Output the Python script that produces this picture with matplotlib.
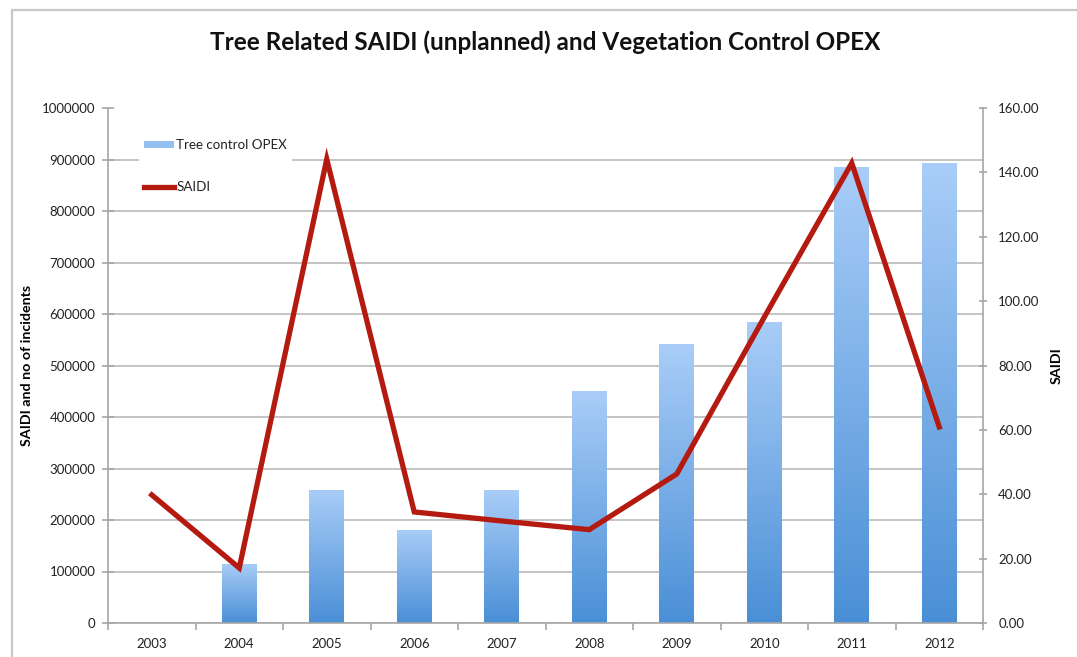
import numpy as np
import matplotlib
matplotlib.use("Agg")
import matplotlib.pyplot as plt
from matplotlib.patches import Patch, Rectangle
from matplotlib.lines import Line2D
from matplotlib.colors import LinearSegmentedColormap
from matplotlib.ticker import FixedLocator, FormatStrFormatter

# values
years = ["2003", "2004", "2005", "2006", "2007", "2008", "2009", "2010", "2011", "2012"]
opex = [0, 115000, 259000, 181000, 258000, 450000, 541000, 584000, 885000, 893000]
saidi = [39.8, 17.1, 144.1, 34.5, 31.7, 29.0, 46.3, 95.0, 142.9, 60.9]

left_ticks = list(range(0, 1000001, 100000))
right_ticks = list(range(0, 161, 20))

plt.rcParams["font.family"] = ["Lato", "DejaVu Sans"]

grey = "#a6a6a6"
red = "#b41a10"

fig = plt.figure(figsize=(10.77, 6.57), dpi=100)
ax = fig.add_axes([108 / 1077, 1 - 623 / 657, 875 / 1077, 515 / 657])
ax2 = ax.twinx()

x = np.arange(len(years))
bars = ax.bar(x, opex, width=0.4, color="#7aaeea", zorder=2)

# vertical gradient in every bar, light at the top, darker at the bottom
cmap = LinearSegmentedColormap.from_list("opex", ["#4a8fd6", "#a9cdf8"])
grad = np.linspace(0, 1, 256).reshape(-1, 1)
for b in bars:
    h = b.get_height()
    if h <= 0:
        continue
    x0 = b.get_x()
    im = ax.imshow(grad, cmap=cmap, origin="lower", aspect="auto",
                   extent=(x0, x0 + b.get_width(), 0, h), zorder=2.1)
    im.set_clip_path(b)

ax2.plot(x, saidi, color=red, lw=3.8, solid_joinstyle="miter", zorder=3)

ax.set_xlim(-0.5, len(years) - 0.5)
ax.set_ylim(0, 1000000)
ax2.set_ylim(0, 160)

# axes styling
for a in (ax, ax2):
    a.spines["top"].set_visible(False)
    for s in a.spines.values():
        s.set_color(grey)
        s.set_linewidth(1.2)
ax.spines["right"].set_visible(False)
ax2.spines["left"].set_visible(False)
ax2.spines["bottom"].set_visible(False)

ax.yaxis.set_major_locator(FixedLocator(left_ticks))
ax.yaxis.set_major_formatter(FormatStrFormatter("%d"))
ax2.yaxis.set_major_locator(FixedLocator(right_ticks))
ax2.yaxis.set_major_formatter(FormatStrFormatter("%.2f"))

ax.set_xticks(x)
ax.set_xticklabels(years)
ax.xaxis.set_minor_locator(FixedLocator(np.arange(-0.5, len(years), 1.0)))
ax.tick_params(axis="x", which="major", length=0, pad=11, labelsize=9.5, labelcolor="#222222")
ax.tick_params(axis="x", which="minor", length=5, direction="out", color=grey, width=1.2)
ax.tick_params(axis="y", direction="inout", length=8, color=grey, width=1.2, pad=5,
               labelsize=9.5, labelcolor="#222222")
ax2.tick_params(axis="y", direction="inout", length=6, color=grey, width=1.2, pad=8,
                labelsize=9.5, labelcolor="#222222")

ax.grid(axis="y", color="#c4c4c4", lw=1.4, zorder=0)
ax.set_axisbelow(True)
ax.yaxis.get_gridlines()[-1].set_visible(False)

ax.set_ylabel("SAIDI and no of incidents", fontsize=10.3, fontweight="bold")
ax.yaxis.set_label_coords(-75 / 875, 0.5)
ax2.set_ylabel("SAIDI", fontsize=10.3, fontweight="bold")
ax2.yaxis.set_label_coords(943 / 875, 0.5)

handles = [Patch(facecolor="#93c0f1", edgecolor="none"),
           Line2D([], [], color=red, lw=3.8)]
leg = ax2.legend(handles, ["Tree control OPEX", "SAIDI"], loc="upper left",
                 bbox_to_anchor=(139 / 1077, 1 - 134 / 657), bbox_transform=fig.transFigure,
                 borderaxespad=0, borderpad=0.4, frameon=True, fancybox=False,
                 facecolor="white", edgecolor="none", framealpha=1, fontsize=9.6,
                 labelspacing=2.25, handlelength=2.2, handleheight=0.45, handletextpad=0.2)
for t in leg.get_texts():
    t.set_color("#222222")

fig.text(545 / 1077, 1 - 42 / 657, "Tree Related SAIDI (unplanned) and Vegetation Control OPEX",
         ha="center", va="center", fontsize=17.5, fontweight="bold", color="#111111")

# light frame of the chart area, cut by the picture's right and bottom edges
fig.add_artist(Rectangle((12 / 1077, -0.1), 1.2, 1.1 - 10 / 657, transform=fig.transFigure,
                         fill=False, edgecolor="#c8c8c8", lw=1.6))

fig.savefig("out.png", dpi=100, facecolor="white")
